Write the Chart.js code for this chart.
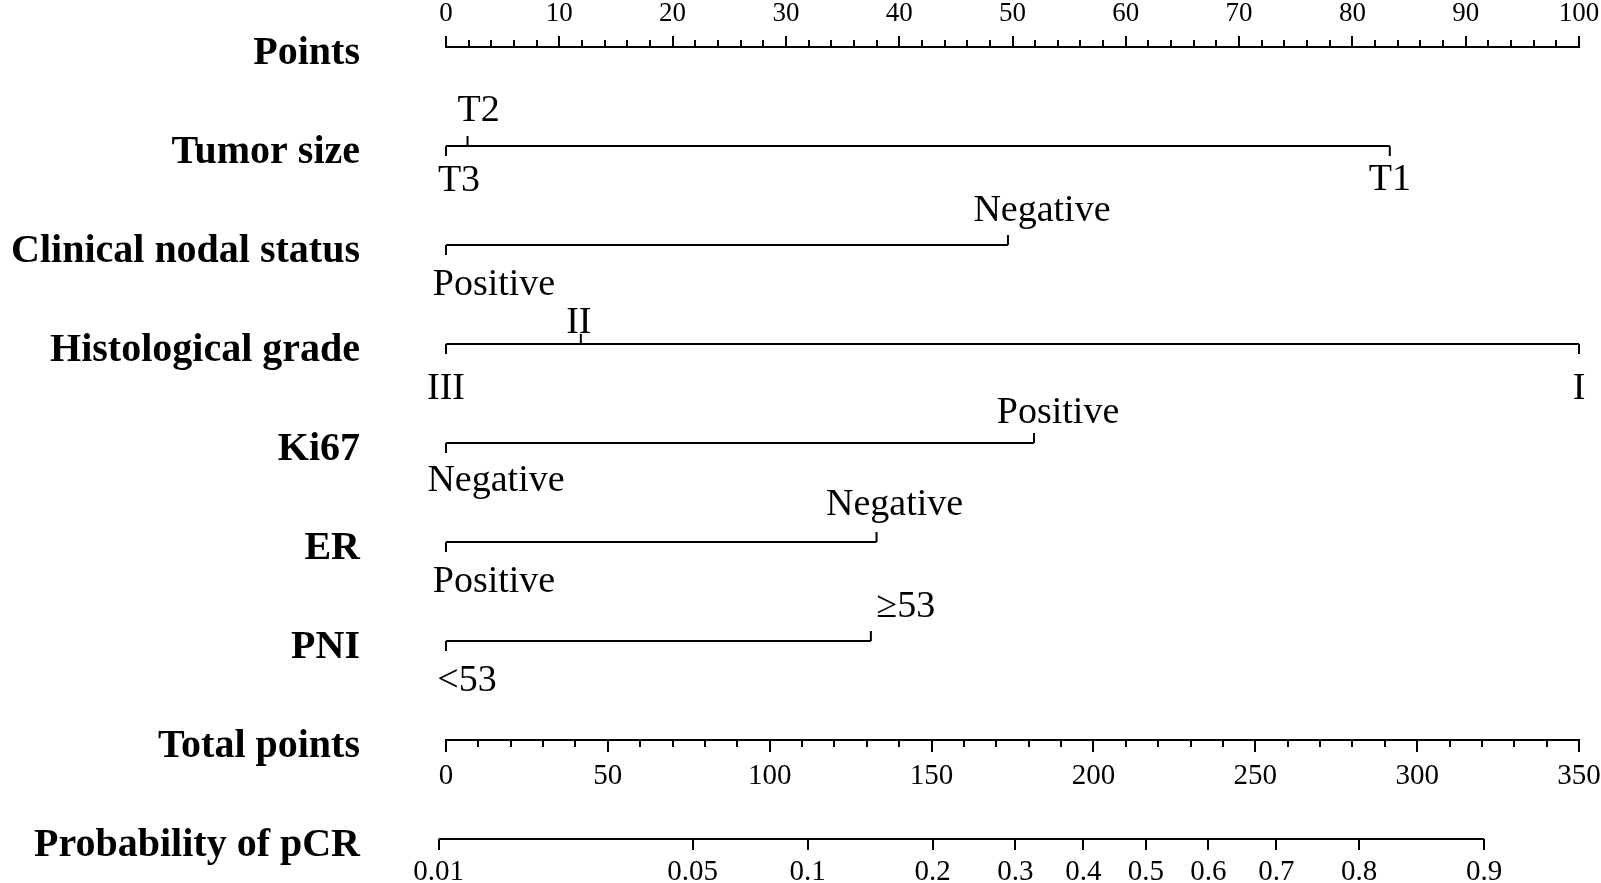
<!DOCTYPE html>
<html>
<head>
<meta charset="utf-8">
<script src="https://cdn.jsdelivr.net/npm/chart.js@4.4.1/dist/chart.umd.min.js"></script>
<style>
  html, body { margin: 0; padding: 0; background: #fff; }
  #wrap { width: 1601px; height: 883px; }
</style>
</head>
<body>
<div id="wrap"><canvas id="nomo"></canvas></div>
<script>
// rows of the nomogram, top to bottom
var rowTitles = ['Points', 'Tumor size', 'Clinical nodal status', 'Histological grade', 'Ki67', 'ER', 'PNI', 'Total points', 'Probability of pCR'];

// labelled ticks of the points and total points axes
var pointsTicks = [0, 10, 20, 30, 40, 50, 60, 70, 80, 90, 100];
var totalTicks = [0, 50, 100, 150, 200, 250, 300, 350];

// predictors: levels and the points they get
var tumorLevels = ['T3', 'T2', 'T1'];
var tumorPoints = [0, 1.9, 83.3];
var nodalLevels = ['Positive', 'Negative'];
var nodalPoints = [0, 49.6];
var gradeLevels = ['III', 'II', 'I'];
var gradePoints = [0, 11.9, 100];
var ki67Levels = ['Negative', 'Positive'];
var ki67Points = [0, 51.9];
var erLevels = ['Positive', 'Negative'];
var erPoints = [0, 38.0];
var pniLevels = ['<53', '\u226553'];
var pniPoints = [0, 37.5];

// probability axis
var probTicks = [0.01, 0.05, 0.1, 0.2, 0.3, 0.4, 0.5, 0.6, 0.7, 0.8, 0.9];
var probLabels = ['0.01', '0.05', '0.1', '0.2', '0.3', '0.4', '0.5', '0.6', '0.7', '0.8', '0.9'];
// total points where p = 0.5, and total points per logit unit
var totalAtHalf = 216.2;
var totalPerLogit = 47.54;

var predictors = [
  [tumorLevels, tumorPoints],
  [nodalLevels, nodalPoints],
  [gradeLevels, gradePoints],
  [ki67Levels, ki67Points],
  [erLevels, erPoints],
  [pniLevels, pniPoints]
];

// label placement (style only)
var labelAbove = [[0, 1, 0], [0, 1], [0, 1, 0], [0, 1], [0, 1], [0, 1]];
var labelNudge = [
  [[13, -5], [11, -1], [0, -6]],
  [[48, 0], [34, 0]],
  [[0, 5], [-2, 13], [0, 5]],
  [[50, -2], [24, 4]],
  [[48, 0], [18, -3]],
  [[21, 0], [35, 0]]
];

var serif = '"Liberation Serif", "Times New Roman", serif';
Chart.defaults.font.family = serif;
Chart.defaults.color = '#000';

function logit(p) { return Math.log(p / (1 - p)); }
function noPad(s) { s.paddingLeft = 0; s.paddingRight = 0; }

var rowLines = predictors.map(function (p, r) {
  return {
    data: [{ x: Math.min.apply(null, p[1]), y: r + 1 }, { x: Math.max.apply(null, p[1]), y: r + 1 }],
    showLine: true, borderColor: '#000', borderWidth: 2, pointRadius: 0, clip: false
  };
});
rowLines.push({
  xAxisID: 'xProb',
  data: [{ x: logit(probTicks[0]), y: 8 }, { x: logit(probTicks[probTicks.length - 1]), y: 8 }],
  showLine: true, borderColor: '#000', borderWidth: 2, pointRadius: 0, clip: false
});

// short ticks and level names on each predictor line
var levelTicks = {
  id: 'levelTicks',
  afterDatasetsDraw: function (chart) {
    var xs = chart.scales.x, ys = chart.scales.y, ctx = chart.ctx;
    ctx.save();
    ctx.strokeStyle = '#000';
    ctx.fillStyle = '#000';
    ctx.lineWidth = 2;
    ctx.font = '38px ' + serif;
    ctx.textAlign = 'center';
    ctx.textBaseline = 'alphabetic';
    predictors.forEach(function (p, r) {
      var py = ys.getPixelForValue(r + 1);
      p[1].forEach(function (v, i) {
        var px = xs.getPixelForValue(v);
        var up = labelAbove[r][i];
        ctx.beginPath();
        ctx.moveTo(px, py);
        ctx.lineTo(px, up ? py - 10 : py + 10);
        ctx.stroke();
        var n = labelNudge[r][i];
        ctx.fillText(p[0][i], px + n[0], (up ? py - 24 : py + 50) + n[1]);
      });
    });
    ctx.restore();
  }
};

var ctx = document.getElementById('nomo').getContext('2d');
var nomo = new Chart(ctx, {
  type: 'scatter',
  data: { datasets: rowLines },
  plugins: [levelTicks],
  options: {
    responsive: true,
    maintainAspectRatio: false,
    animation: false,
    layout: { padding: { left: 0, right: 22, top: 0, bottom: 44 } },
    plugins: { legend: { display: false }, tooltip: { enabled: false } },
    scales: {
      x: {
        type: 'linear', position: 'top', min: 0, max: 100,
        ticks: {
          stepSize: 2, autoSkip: false, minRotation: 0, maxRotation: 0, padding: 6,
          font: { size: 27 },
          callback: function (v) { return pointsTicks.indexOf(v) >= 0 ? String(v) : ''; }
        },
        grid: {
          drawOnChartArea: false, color: '#000', lineWidth: 2, tickLength: 11,
          tickBorderDash: function (c) { return pointsTicks.indexOf(c.tick.value) >= 0 ? [] : [6, 20]; },
          tickBorderDashOffset: function (c) { return pointsTicks.indexOf(c.tick.value) >= 0 ? 0 : 22; }
        },
        border: { color: '#000', width: 2 },
        afterFit: function (s) { s.height = 47; noPad(s); }
      },
      xTot: {
        type: 'linear', axis: 'x', position: { y: 7 }, min: 0, max: totalTicks[totalTicks.length - 1],
        ticks: {
          stepSize: 10, autoSkip: false, minRotation: 0, maxRotation: 0, padding: 8,
          font: { size: 29 },
          callback: function (v) { return totalTicks.indexOf(v) >= 0 ? String(v) : ''; }
        },
        grid: {
          drawOnChartArea: false, color: '#000', lineWidth: 2, tickLength: 11,
          tickBorderDash: function (c) { return totalTicks.indexOf(c.tick.value) >= 0 ? [] : [6, 20]; }
        },
        border: { color: '#000', width: 2 },
        afterFit: noPad
      },
      xProb: {
        type: 'linear', axis: 'x', position: { y: 8 },
        min: (0 - totalAtHalf) / totalPerLogit,
        max: (totalTicks[totalTicks.length - 1] - totalAtHalf) / totalPerLogit,
        afterBuildTicks: function (s) {
          s.ticks = probTicks.map(function (p) { return { value: logit(p) }; });
        },
        ticks: {
          autoSkip: false, minRotation: 0, maxRotation: 0, padding: 5,
          font: { size: 29 },
          callback: function (v, i) { return probLabels[i]; }
        },
        grid: { drawOnChartArea: false, color: '#000', lineWidth: 2, tickLength: 11 },
        border: { display: false },
        afterFit: noPad
      },
      y: {
        type: 'linear', position: 'left', min: 0, max: 8, reverse: true,
        afterBuildTicks: function (s) {
          s.ticks = rowTitles.map(function (t, i) { return { value: i }; });
        },
        ticks: {
          autoSkip: false, padding: 86, labelOffset: 7,
          font: { size: 40, weight: 'bold' },
          callback: function (v) { return rowTitles[v]; }
        },
        grid: { display: false, drawTicks: false },
        border: { display: false },
        afterFit: function (s) { s.width = 446; s.paddingTop = 0; s.paddingBottom = 0; }
      }
    }
  }
});
</script>
</body>
</html>
